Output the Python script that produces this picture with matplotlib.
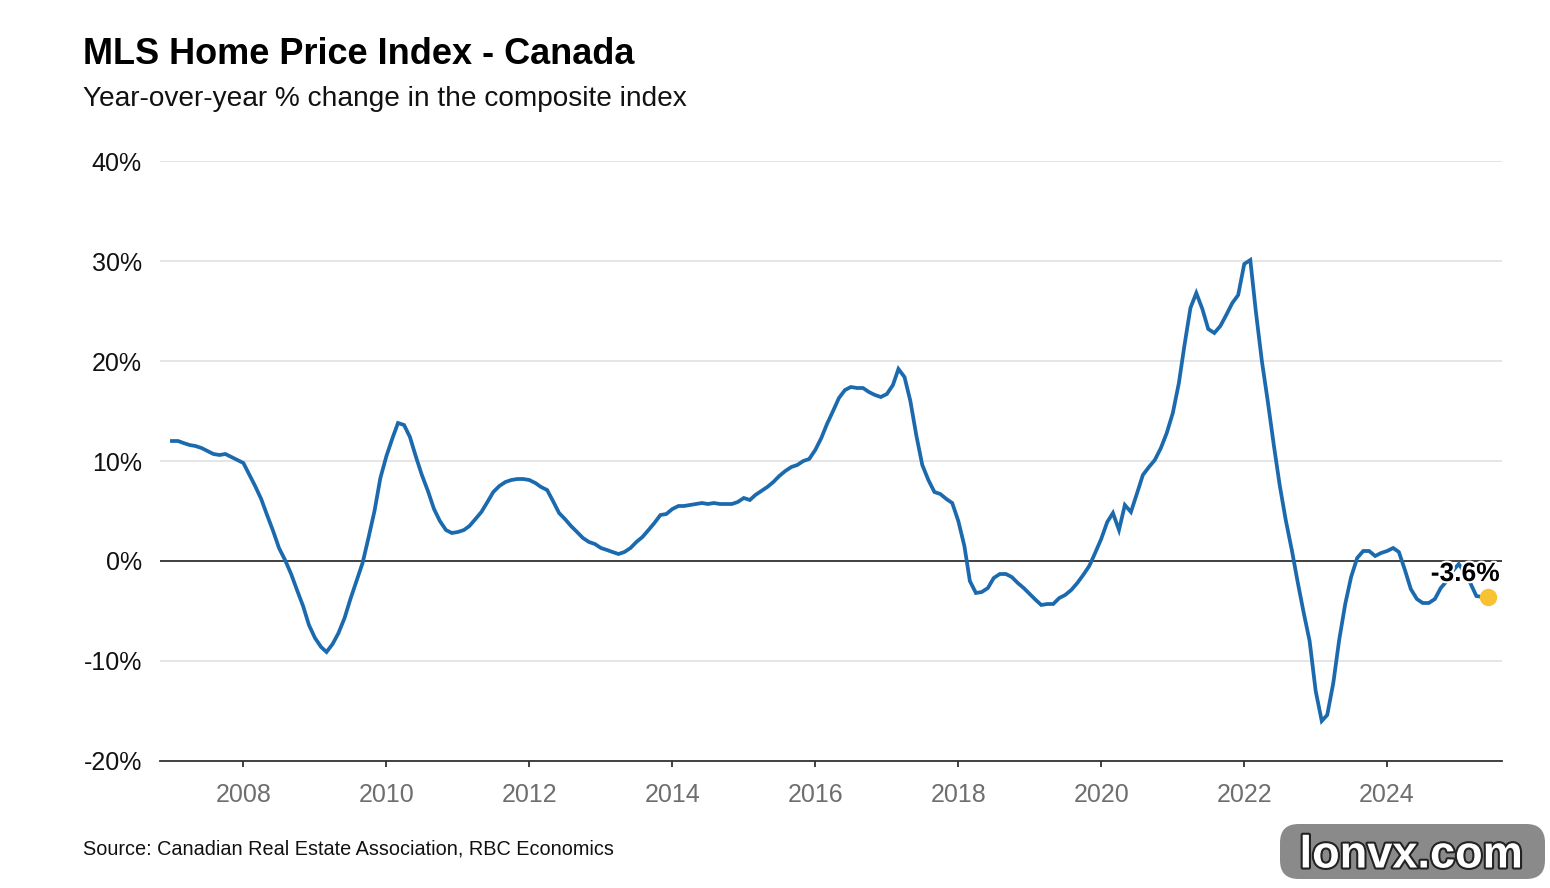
import matplotlib
matplotlib.use("Agg")
import matplotlib.pyplot as plt
import matplotlib.dates as mdates
import matplotlib.patheffects as pe
from matplotlib.patches import FancyBboxPatch
import pandas as pd
import datetime as dt

plt.rcParams['font.family'] = ['Liberation Sans', 'DejaVu Sans']

# ---- data: MLS HPI composite, Canada, year-over-year % change (monthly, from Jan 2007) ----
start_month = "2007-01-01"
yoy_2007 = [12.0, 12.0, 11.8, 11.6, 11.5, 11.3, 11.0, 10.7, 10.6, 10.7, 10.4, 10.1]
yoy_2008 = [9.8, 8.6, 7.5, 6.2, 4.6, 3.0, 1.3, 0.1, -1.3, -2.9, -4.5, -6.4]
yoy_2009 = [-7.7, -8.6, -9.1, -8.3, -7.2, -5.7, -3.8, -2.0, -0.2, 2.3, 5.0, 8.3]
yoy_2010 = [10.5, 12.3, 13.8, 13.6, 12.4, 10.4, 8.6, 7.0, 5.2, 4.0, 3.1, 2.8]
yoy_2011 = [2.9, 3.1, 3.5, 4.2, 4.9, 5.9, 6.9, 7.5, 7.9, 8.1, 8.2, 8.2]
yoy_2012 = [8.1, 7.8, 7.4, 7.1, 6.0, 4.8, 4.2, 3.5, 2.9, 2.3, 1.9, 1.7]
yoy_2013 = [1.3, 1.1, 0.9, 0.7, 0.9, 1.3, 1.9, 2.4, 3.1, 3.8, 4.6, 4.7]
yoy_2014 = [5.2, 5.5, 5.5, 5.6, 5.7, 5.8, 5.7, 5.8, 5.7, 5.7, 5.7, 5.9]
yoy_2015 = [6.3, 6.1, 6.6, 7.0, 7.4, 7.9, 8.5, 9.0, 9.4, 9.6, 10.0, 10.2]
yoy_2016 = [11.1, 12.3, 13.7, 15.0, 16.3, 17.1, 17.4, 17.3, 17.3, 16.9, 16.6, 16.4]
yoy_2017 = [16.7, 17.6, 19.2, 18.4, 16.0, 12.5, 9.6, 8.1, 6.9, 6.7, 6.2, 5.8]
yoy_2018 = [4.0, 1.5, -2.0, -3.2, -3.1, -2.7, -1.7, -1.3, -1.3, -1.6, -2.2, -2.7]
yoy_2019 = [-3.3, -3.9, -4.4, -4.3, -4.3, -3.7, -3.4, -2.9, -2.2, -1.4, -0.5, 0.8]
yoy_2020 = [2.2, 3.9, 4.8, 3.1, 5.6, 4.9, 6.7, 8.6, 9.4, 10.1, 11.3, 12.8]
yoy_2021 = [14.8, 17.8, 21.5, 25.3, 26.8, 25.2, 23.2, 22.8, 23.5, 24.6, 25.8, 26.6]
yoy_2022 = [29.7, 30.1, 25.0, 20.0, 16.0, 11.6, 7.6, 4.1, 1.1, -2.1, -5.2, -8.0]
yoy_2023 = [-13.0, -16.0, -15.4, -12.2, -7.9, -4.3, -1.6, 0.3, 1.0, 1.0, 0.5, 0.8]
yoy_2024 = [1.0, 1.3, 0.9, -0.9, -2.8, -3.8, -4.2, -4.2, -3.8, -2.7, -2.0, -1.0]
yoy_2025 = [-0.3, -1.2, -2.2, -3.5, -3.6, -3.6]

last_label = "-3.6%"
y_ticks = [-20, -10, 0, 10, 20, 30, 40]
x_tick_years = [2008, 2010, 2012, 2014, 2016, 2018, 2020, 2022, 2024]

title = "MLS Home Price Index - Canada"
subtitle = "Year-over-year % change in the composite index"
source = "Source: Canadian Real Estate Association, RBC Economics"
watermark = "lonvx.com"

yoy = (yoy_2007 + yoy_2008 + yoy_2009 + yoy_2010 + yoy_2011 + yoy_2012 + yoy_2013
       + yoy_2014 + yoy_2015 + yoy_2016 + yoy_2017 + yoy_2018 + yoy_2019 + yoy_2020
       + yoy_2021 + yoy_2022 + yoy_2023 + yoy_2024 + yoy_2025)
dates = pd.date_range(start_month, periods=len(yoy), freq="MS")

# ---- figure ----
W, H = 1550, 888
fig = plt.figure(figsize=(W / 100, H / 100), dpi=100)
ax = fig.add_axes([160 / W, 1 - 761 / H, (1502 - 160) / W, (761 - 161) / H])

line_color = "#1b6aae"
ax.plot(dates, yoy, color=line_color, lw=2.7, solid_joinstyle="miter", zorder=3)
ax.plot(dates[-1], yoy[-1], "o", color="#f8c232", markersize=11.5, zorder=4)
ax.annotate(last_label, (dates[-1], yoy[-1]), xytext=(-23, 23),
            textcoords="offset pixels", ha="center", va="center",
            fontsize=19, fontweight="bold", color="black", zorder=5,
            path_effects=[pe.withStroke(linewidth=3, foreground="white")])

ax.set_ylim(-20, 40)
ax.set_xlim(dt.datetime(2006, 11, 1), dt.datetime(2025, 8, 10))
ax.set_yticks(y_ticks)
ax.set_yticklabels([f"{v}%" for v in y_ticks])
ax.set_xticks([dt.datetime(y, 1, 1) for y in x_tick_years])
ax.xaxis.set_major_formatter(mdates.DateFormatter("%Y"))

ax.grid(axis="y", color="#e3e3e3", lw=1.3, zorder=0)
ax.axhline(0, color="#333333", lw=1.3, zorder=2)
for s in ["top", "right", "left"]:
    ax.spines[s].set_visible(False)
ax.spines["bottom"].set_color("#333333")
ax.spines["bottom"].set_linewidth(1.3)
ax.spines["bottom"].set_zorder(2)

ax.tick_params(axis="y", length=0, pad=13, labelsize=18, labelcolor="#111111")
ax.tick_params(axis="x", length=4.5, width=1.3, color="#333333", pad=11,
               labelsize=18, labelcolor="#6e6e6e")

fig.text(83 / W, 1 - 64 / H, title, fontsize=26, fontweight="bold",
         ha="left", va="baseline", color="black")
fig.text(83 / W, 1 - 106 / H, subtitle, fontsize=20.2,
         ha="left", va="baseline", color="#111111")
fig.text(83 / W, 1 - 854 / H, source, fontsize=14.3,
         ha="left", va="baseline", color="#111111")

# watermark badge
badge = FancyBboxPatch((1280 / W, 1 - 879 / H), (1545 - 1280) / W, (879 - 824) / H,
                       boxstyle="round,pad=0,rounding_size=0.012",
                       transform=fig.transFigure, facecolor="#8a8a8a",
                       edgecolor="none", mutation_aspect=W / H)
fig.patches.append(badge)
fig.text(1411 / W, 1 - 856 / H, watermark, fontsize=32.5, fontweight="bold",
         ha="center", va="center", color="white",
         path_effects=[pe.withStroke(linewidth=3, foreground="#222222")])

fig.savefig("out.png", dpi=100)
